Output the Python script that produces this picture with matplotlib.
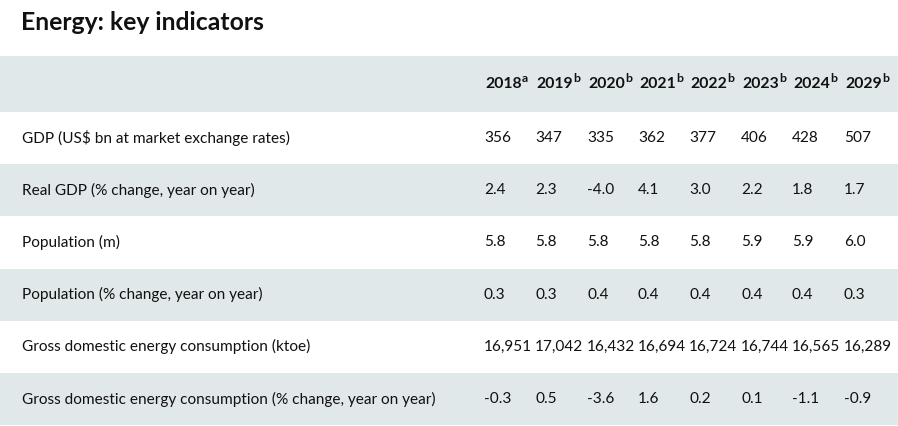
import matplotlib
matplotlib.use("Agg")
import matplotlib.pyplot as plt
from matplotlib.patches import Rectangle

title = "Energy: key indicators"
years = ["2018", "2019", "2020", "2021", "2022", "2023", "2024", "2029"]
year_notes = ["a", "b", "b", "b", "b", "b", "b", "b"]
row_labels = [
    "GDP (US$ bn at market exchange rates)",
    "Real GDP (% change, year on year)",
    "Population (m)",
    "Population (% change, year on year)",
    "Gross domestic energy consumption (ktoe)",
    "Gross domestic energy consumption (% change, year on year)",
]
gdp = ["356", "347", "335", "362", "377", "406", "428", "507"]
real_gdp = ["2.4", "2.3", "-4.0", "4.1", "3.0", "2.2", "1.8", "1.7"]
population = ["5.8", "5.8", "5.8", "5.8", "5.8", "5.9", "5.9", "6.0"]
population_change = ["0.3", "0.3", "0.4", "0.4", "0.4", "0.4", "0.4", "0.3"]
energy = ["16,951", "17,042", "16,432", "16,694", "16,724", "16,744", "16,565", "16,289"]
energy_change = ["-0.3", "0.5", "-3.6", "1.6", "0.2", "0.1", "-1.1", "-0.9"]
rows = [gdp, real_gdp, population, population_change, energy, energy_change]

W, H = 898, 426
FONT = "Lato"
GREY = "#e1e8ea"
TXT = "#111111"

fig = plt.figure(figsize=(W / 100, H / 100), dpi=100)
ax = fig.add_axes([0, 0, 1, 1])
ax.set_xlim(0, W)
ax.set_ylim(H, 0)
ax.axis("off")
renderer = fig.canvas.get_renderer()

# title
ax.text(21, 23, title, fontsize=17.8, fontweight="bold", family=FONT,
        va="center", ha="left", color=TXT)

# header band
header_top, header_bot = 56, 112
ax.add_patch(Rectangle((0, header_top), W, header_bot - header_top, color=GREY, lw=0))
col_x = [485, 536, 588, 639, 690, 742, 793, 845]
for x, y, n in zip(col_x, years, year_notes):
    t = ax.text(x, 84, y, fontsize=11.3, fontweight="bold",
                family=FONT, va="center", ha="left", color=TXT)
    bb = t.get_window_extent(renderer)
    x_end = x + bb.width
    ax.text(x_end + 0.5, 78, n, fontsize=8.8, fontweight="bold",
            family=FONT, va="center", ha="left", color=TXT)

row_h = 52.2
for i, (lab, vals) in enumerate(zip(row_labels, rows)):
    top = header_bot + i * row_h
    if i % 2 == 1:
        ax.add_patch(Rectangle((0, top), W, row_h, color=GREY, lw=0))
    yc = top + row_h / 2
    ax.text(22, yc, lab, fontsize=11.1, family=FONT, va="center", ha="left", color=TXT)
    for x, v in zip(col_x, vals):
        ax.text(x - 1, yc, v, fontsize=11.1, family=FONT, va="center", ha="left", color=TXT)

fig.savefig("out.png", dpi=100)
